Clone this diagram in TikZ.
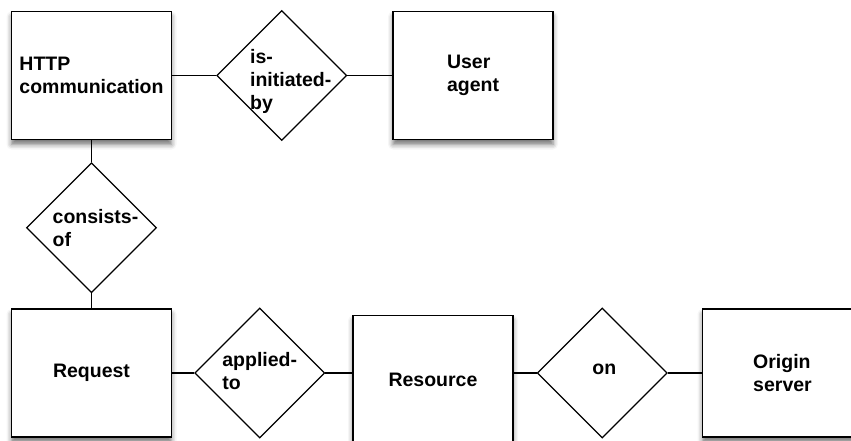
\documentclass[tikz,border=0pt]{standalone}
\usepackage{fontspec}
\setmainfont{Liberation Sans}
\usetikzlibrary{positioning,shapes.geometric,shadows.blur}
\tikzset{
  entity/.style={draw, line width=1.3pt, fill=white, minimum width=160pt, minimum height=128pt, inner sep=0pt, align=left, font=\fontsize{19.5}{23}\selectfont\bfseries, blur shadow={shadow xshift=0pt, shadow yshift=-5pt, shadow blur radius=5pt, shadow opacity=55}},
  relation/.style={draw, diamond, aspect=1, line width=1.2pt, fill=white, minimum width=130pt, minimum height=130pt, inner sep=0pt},
  reltext/.style={align=left, inner sep=0pt, font=\fontsize{19.5}{23}\selectfont\bfseries},
  link/.style={line width=1.2pt},
}

\begin{document}
\begin{tikzpicture}[x=1pt,y=-1pt]
\useasboundingbox (0,0) rectangle (851,441);
% the nodes, top row
\node [entity] (http) at (91.5,75.5) {HTTP\\communication};
\node [relation, right=44pt of http, label={[reltext,xshift=9pt,yshift=-6pt]center:is-\\initiated-\\by}] (initiated) {};
\node [entity, right=45pt of initiated] (agent) {User\\agent};
% left column
\node [relation, below=22pt of http, label={[reltext,xshift=4pt]center:consists-\\of}] (consists) {};
\node [entity, below=15pt of consists] (request) {Request};
% bottom row
\node [relation, right=22pt of request, label={[reltext,yshift=2pt]center:applied-\\to}] (applied) {};
\node [entity, right=27pt of applied, yshift=-6.5pt] (resource) {Resource};
\node [relation, anchor=west, label={[reltext,xshift=2pt,yshift=4pt]center:on}] (on) at ([xshift=23pt]resource.east |- applied) {};
\node [entity, right=34pt of on] (origin) {Origin\\server};
%drawings of links
\draw [link] (http) -- (initiated);
\draw [link] (initiated) -- (agent);
\draw [link] (http) -- (consists);
\draw [link] (consists) -- (request);
\draw [link] (request) -- (applied);
\draw [link] (applied.east) -- (applied.east -| resource.west);
\draw [link] (resource.east |- on.west) -- (on.west);
\draw [link] (on) -- (origin);
\end{tikzpicture}
\end{document}
